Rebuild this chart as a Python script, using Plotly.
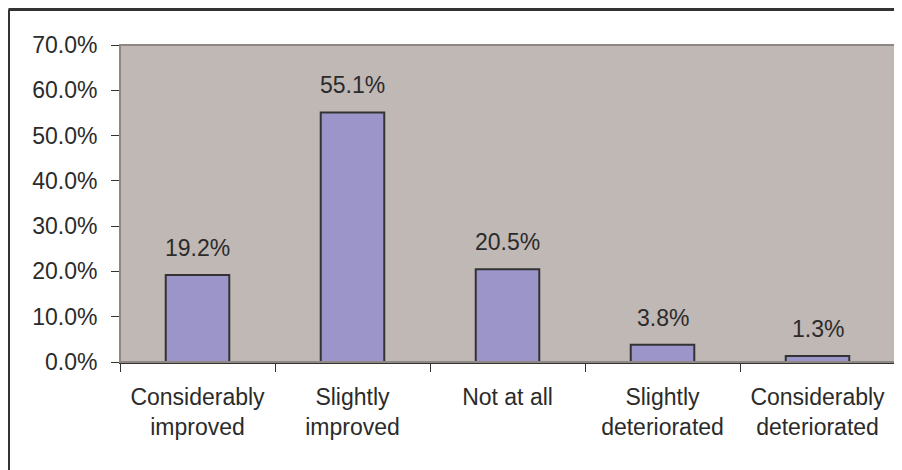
import plotly.graph_objects as go

# -----------------------------------------------------
# DATA
# -----------------------------------------------------
categories = [
    "Considerably<br>improved",
    "Slightly<br>improved",
    "Not at all",
    "Slightly<br>deteriorated",
    "Considerably<br>deteriorated",
]
shares = [19.2, 55.1, 20.5, 3.8, 1.3]
y_ticks = [0, 10, 20, 30, 40, 50, 60, 70]

# -----------------------------------------------------
# STYLE
# -----------------------------------------------------
FONT = "Liberation Sans, Arial, sans-serif"
TXT = "#2b2b2b"
BAR = "#9b95c9"
PLOT_BG = "#c0b8b5"

# page body has an 8px margin, so figure pixels = screen pixels - 8
OFF = 8
W, H = 902, 470
ML, MT = 120 - OFF, 45 - OFF
MR = W - (895 - OFF)
MB = H - (362 - OFF)
pw, ph = W - ML - MR, H - MT - MB


def px_x(x):
    return (x - OFF - ML) / pw


def px_y(y):
    return (H - MB - (y - OFF)) / ph


fig = go.Figure()

fig.add_trace(go.Bar(
    x=categories,
    y=shares,
    marker=dict(color=BAR, line=dict(color="#333333", width=2)),
    showlegend=False,
    hoverinfo="skip",
))

# value labels above bars
for c, v in zip(categories, shares):
    fig.add_annotation(
        x=c, y=v, text=f"{v:.1f}%",
        showarrow=False, yanchor="middle", yshift=27,
        font=dict(family=FONT, size=23, color=TXT),
    )

# plot area frame (grey)
fig.add_shape(type="rect", xref="paper", yref="paper", x0=0, x1=1, y0=0, y1=1,
              line=dict(color="#8f8784", width=2), layer="above")

# outer chart border (only top/left visible in the crop)
fig.add_shape(type="line", xref="paper", yref="paper",
              x0=px_x(8.5), x1=px_x(8.5), y0=px_y(9.5), y1=px_y(520),
              line=dict(color="#333333", width=3))
fig.add_shape(type="line", xref="paper", yref="paper",
              x0=px_x(8.5), x1=px_x(950), y0=px_y(9.5), y1=px_y(9.5),
              line=dict(color="#333333", width=3))

fig.update_layout(
    width=W, height=H,
    margin=dict(l=ML, r=MR, t=MT, b=MB),
    paper_bgcolor="white",
    plot_bgcolor=PLOT_BG,
    bargap=0.59,
    font=dict(family=FONT, color=TXT),
)

fig.update_xaxes(
    tickson="boundaries",
    ticks="outside", ticklen=8, tickwidth=1, tickcolor="#333333",
    showline=True, linecolor="#333333", linewidth=2,
    tickfont=dict(family=FONT, size=23, color=TXT),
    ticklabelstandoff=13,
    showgrid=False,
)

fig.update_yaxes(
    range=[0, 70],
    tickvals=y_ticks,
    ticktext=[f"{t:.1f}%" for t in y_ticks],
    ticks="outside", ticklen=8, tickwidth=1, tickcolor="#333333",
    showline=True, linecolor="#333333", linewidth=1,
    tickfont=dict(family=FONT, size=23, color=TXT),
    ticklabelstandoff=9,
    showgrid=False, zeroline=False,
)

fig.write_html("out.html")
